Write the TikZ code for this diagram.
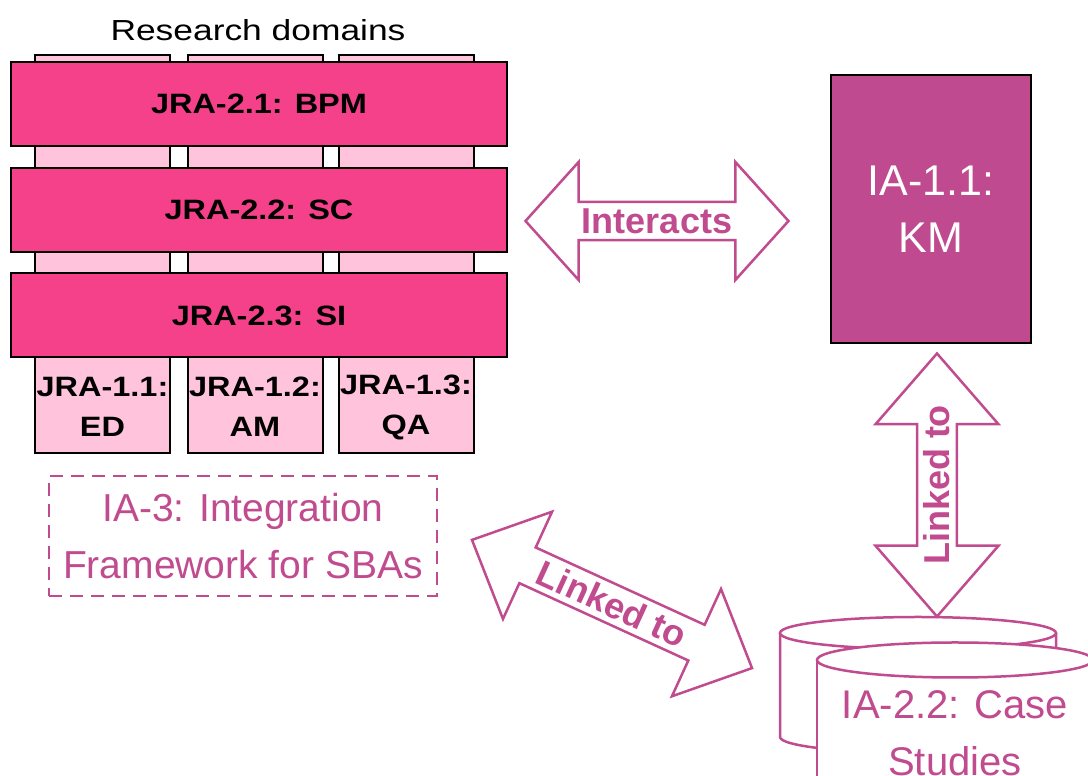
\documentclass[tikz,border=0pt]{standalone}
\usepackage{fontspec}
\setmainfont{Liberation Sans}
\newfontfamily\widefont[FakeStretch=1.16]{Liberation Sans}
\newfontfamily\widerfont[FakeStretch=1.22]{Liberation Sans}
\usetikzlibrary{shapes.arrows}

\definecolor{barpink}{HTML}{F4418A}
\definecolor{colpink}{HTML}{FFC4DC}
\definecolor{kmpink}{HTML}{BF4A8F}
\definecolor{linepink}{HTML}{C04B8F}

\tikzset{
	column/.style={draw=black, line width=2pt, fill=colpink, minimum width=135pt, minimum height=398pt},
	collabel/.style={align=center, inner sep=0pt, font=\widefont\fontsize{28}{40}\selectfont\bfseries},
	bar/.style={draw=black, line width=2pt, fill=barpink, minimum width=496pt, minimum height=84pt, font=\widefont\fontsize{28}{34}\selectfont\bfseries},
	linkarrow/.style={double arrow, draw=linepink, line width=2.5pt, fill=white, text=linepink, inner sep=0pt,
		font=\fontsize{36}{40}\selectfont\bfseries, minimum width=118pt, minimum height=263pt, double arrow head extend=29pt},
	pinkline/.style={draw=linepink, line width=2.5pt, fill=white}
}

\begin{document}
\begin{tikzpicture}[x=1pt, y=1pt]
			\useasboundingbox (0,0) rectangle (1088,776);
			\clip (0,0) rectangle (1088,776);

			% Draw the research domain columns
			\node[column] (ed) at (102.5,522) {};
			\node[column] (am) at (255,522) {};
			\node[column] (qa) at (406,522) {};
			\node[collabel] (edlabel) at (102.5,369) {JRA-1.1:\\ED};
			\node[collabel] (amlabel) at (255,369) {JRA-1.2:\\AM};
			\node[collabel] (qalabel) at (406,369) {JRA-1.3:\\QA};
			\node[font=\widerfont\fontsize{29}{34}\selectfont] (domains) at (258,746) {Research domains};

			% Draw the cross-cutting bars
			\node[bar] (bpm) at (259,672) {JRA-2.1: BPM};
			\node[bar] (sc) at (259,566) {JRA-2.2: SC};
			\node[bar] (si) at (259,460.5) {JRA-2.3: SI};

			% Draw the KM box and the integration framework
			\node[draw=black, line width=2pt, fill=kmpink, text=white, align=center, minimum width=200pt, minimum height=268pt,
				font=\fontsize{43}{57}\selectfont] (km) at (931,567) {IA-1.1:\\KM};
			\node[draw=linepink, line width=2.5pt, dash pattern=on 13pt off 8pt, text=linepink, align=center,
				minimum width=388pt, minimum height=120pt, font=\fontsize{39}{57}\selectfont] (framework) at (243,240) {IA-3: Integration\\Framework for SBAs};

			% Draw the case studies cylinders
			\draw[pinkline] (780,143) -- (780,39) arc[start angle=180, end angle=360, x radius=138pt, y radius=16pt] -- (1056,143);
			\draw[pinkline] (918,143) ellipse[x radius=138pt, y radius=16pt];
			\draw[pinkline] (817,116) -- (817,-30) -- (1093,-30) -- (1093,116);
			\draw[pinkline] (955,116) ellipse[x radius=138pt, y radius=17.5pt];
			\node[text=linepink, align=center, font=\fontsize{40}{57}\selectfont] (cases) at (955,42.5) {IA-2.2: Case\\Studies};

			% Draw the block arrows
			\node[linkarrow, double arrow tip angle=96] (interacts) at (657,555) {Interacts};
			\node[linkarrow, rotate=90, minimum width=123pt, double arrow head extend=30.5pt, double arrow tip angle=82] (kmlink) at (937,291) {Linked to};
			\node[linkarrow, rotate=-24.6, minimum height=308pt, double arrow tip angle=88] (caselink) at (612,172) {Linked to};
		\end{tikzpicture}
\end{document}
